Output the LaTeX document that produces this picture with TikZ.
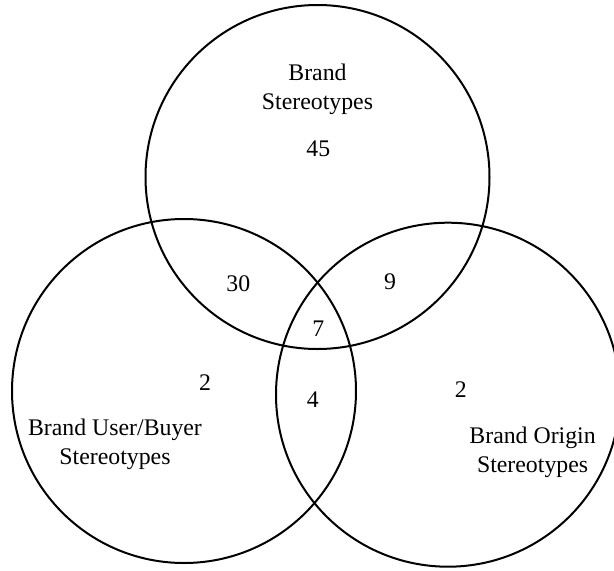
\documentclass[tikz,border=0pt]{standalone}
\usepackage{fontspec}
\setmainfont{Liberation Serif}
\begin{document}
\begin{tikzpicture}[x=1pt,y=-1pt,
  venn/.style={circle, draw=black, line width=2pt, inner sep=0pt, minimum size=344pt},
  lbl/.style={align=center, inner sep=0pt, font=\fontsize{23.8}{29.5}\selectfont},
  num/.style={inner sep=0pt, font=\fontsize{23.8}{29.5}\selectfont}]
\useasboundingbox (0,0) rectangle (614,571);
\node[venn] (brand) at (317.5,177) {};
\node[venn] (user) at (184,391) {};
\node[venn] (origin) at (448,394.7) {};
\node[lbl] (brandlbl) at (317.5,89.5) {Brand\\Stereotypes};
\node[lbl] (userlbl) at (115,444.2) {Brand User/Buyer\\Stereotypes};
\node[lbl] (originlbl) at (532.6,452.5) {Brand Origin\\Stereotypes};
\node[num] (n45) at (318.3,148.3) {45};
\node[num] (n30) at (238.3,283.3) {30};
\node[num] (n9) at (390,281.7) {9};
\node[num] (n7) at (318.3,328.5) {7};
\node[num] (n2a) at (205,383) {2};
\node[num] (n4) at (312.7,400) {4};
\node[num] (n2b) at (460.7,390) {2};
\end{tikzpicture}
\end{document}
